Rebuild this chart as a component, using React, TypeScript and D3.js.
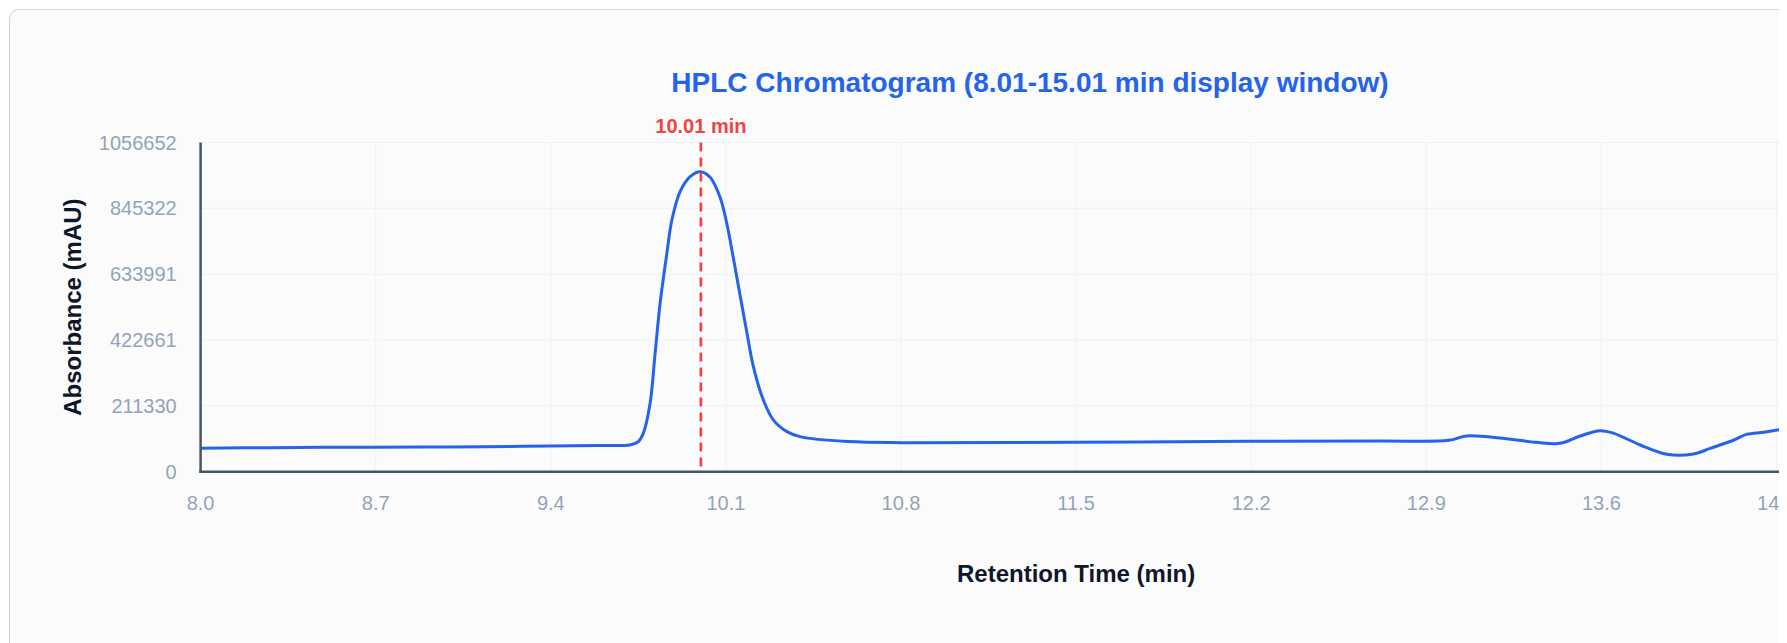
import React, { useEffect } from "react";
import * as d3 from "d3";

const retentionTimes = [
  8.01, 8.3, 8.7, 9.0, 9.3, 9.6, 9.73, 9.76, 9.78, 9.807, 9.827, 9.847, 9.874, 9.894, 9.927, 9.967,
  10.007, 10.047, 10.087, 10.114, 10.14, 10.167, 10.194, 10.22, 10.26, 10.3, 10.354, 10.41, 10.6,
  10.82, 11.5, 12.2, 12.73, 13.0, 13.07, 13.23, 13.35, 13.445, 13.525, 13.605, 13.66, 13.765,
  13.872, 13.978, 14.045, 14.14, 14.19, 14.26, 14.33, 14.4,
];
const absorbance = [
  75500, 77500, 79000, 79500, 82000, 84000, 87000, 97000, 124000, 220000, 380000, 541000, 701000,
  808000, 899000, 947000, 963000, 945000, 880000, 795000, 685000, 565000, 446000, 337000, 230000,
  166000, 129000, 112000, 97000, 93500, 94700, 97900, 99000, 101000, 115000, 106000, 94600, 91400,
  115000, 132000, 123500, 86000, 56000, 57000, 75000, 102000, 120000, 127000, 136000, 140000,
];
const yTickValues = [0, 211330, 422661, 633991, 845322, 1056652];
const xDomain = [8.01, 15.01];
const peakTime = 10.01;
const peakLabel = "10.01 min";
const titleText = "HPLC Chromatogram (8.01-15.01 min display window)";
const xTitle = "Retention Time (min)";
const yTitle = "Absorbance (mAU)";

const OFF = 8; // body margin
const plotLeft = 200.6 - OFF;
const plotTop = 142.5 - OFF;
const plotBottom = 471.8 - OFF;
const plotWidth = 1751;
const plotRight = plotLeft + plotWidth;

export default function App() {
  useEffect(() => {
    document.documentElement.style.overflow = "hidden";
    document.body.style.overflow = "hidden";
  }, []);
  const x = d3.scaleLinear().domain(xDomain).range([plotLeft, plotRight]);
  const y = d3.scaleLinear().domain([0, 1056652]).range([plotBottom, plotTop]);
  const xTicks = d3.range(11).map((i) => xDomain[0] + (i * (xDomain[1] - xDomain[0])) / 10);
  const data = retentionTimes.map((t, i) => [t, absorbance[i]] as [number, number]);
  const line = d3
    .line<[number, number]>()
    .x((d) => x(d[0]))
    .y((d) => y(d[1]))
    .curve(d3.curveCatmullRom.alpha(0.5));
  const font = "'Liberation Sans', Arial, Helvetica, sans-serif";

  return (
    <div style={{ position: "relative", width: 1779, height: 635, overflow: "hidden" }}>
      <div
        style={{
          position: "absolute",
          left: 1,
          top: 1,
          width: 2300,
          height: 800,
          border: "1.5px solid #cbd5e1",
          borderRadius: 10,
          background: "#fbfbfb",
          boxSizing: "border-box",
        }}
      />
      <svg
        width={2300}
        height={800}
        style={{ position: "absolute", left: 0, top: 0, fontFamily: font }}
      >
        <g>
          {yTickValues.map((v) => (
            <line key={"gy" + v} x1={plotLeft} x2={plotRight} y1={y(v)} y2={y(v)} stroke="#eef2f7" strokeWidth={1} />
          ))}
          {xTicks.map((t) => (
            <line key={"gx" + t} x1={x(t)} x2={x(t)} y1={plotTop} y2={plotBottom} stroke="#eef2f7" strokeWidth={1} />
          ))}
        </g>
        <text x={1030 - OFF} y={92 - OFF} textAnchor="middle" fontSize={28} fontWeight="bold" fill="#2563eb">
          {titleText}
        </text>
        <path d={line(data) || ""} fill="none" stroke="#2563eb" strokeWidth={3} strokeLinejoin="round" />
        <line
          x1={x(peakTime)}
          x2={x(peakTime)}
          y1={plotTop}
          y2={plotBottom}
          stroke="#ef4444"
          strokeWidth={2.7}
          strokeDasharray="9,6"
        />
        <text x={x(peakTime)} y={133 - OFF} textAnchor="middle" fontSize={20} fontWeight="bold" fill="#ef4444">
          {peakLabel}
        </text>
        <line x1={plotLeft} x2={plotLeft} y1={plotTop} y2={plotBottom + 1.2} stroke="#475569" strokeWidth={2.5} />
        <line x1={plotLeft - 1.2} x2={plotRight} y1={plotBottom} y2={plotBottom} stroke="#475569" strokeWidth={2.5} />
        {yTickValues.map((v) => (
          <text key={"ty" + v} x={176.7 - OFF} y={y(v)} dy="0.35em" textAnchor="end" fontSize={20} fill="#94a3b8">
            {String(v)}
          </text>
        ))}
        {xTicks.map((t) => (
          <text key={"tx" + t} x={x(t)} y={509.6 - OFF} textAnchor="middle" fontSize={20} fill="#94a3b8">
            {d3.format(".1f")(t)}
          </text>
        ))}
        <text x={(plotLeft + plotRight) / 2} y={581.5 - OFF} textAnchor="middle" fontSize={24} fontWeight="bold" fill="#0f172a">
          {xTitle}
        </text>
        <text
          transform={`translate(${81 - OFF},${(plotTop + plotBottom) / 2}) rotate(-90)`}
          textAnchor="middle"
          fontSize={24}
          fontWeight="bold"
          fill="#0f172a"
        >
          {yTitle}
        </text>
      </svg>
    </div>
  );
}
